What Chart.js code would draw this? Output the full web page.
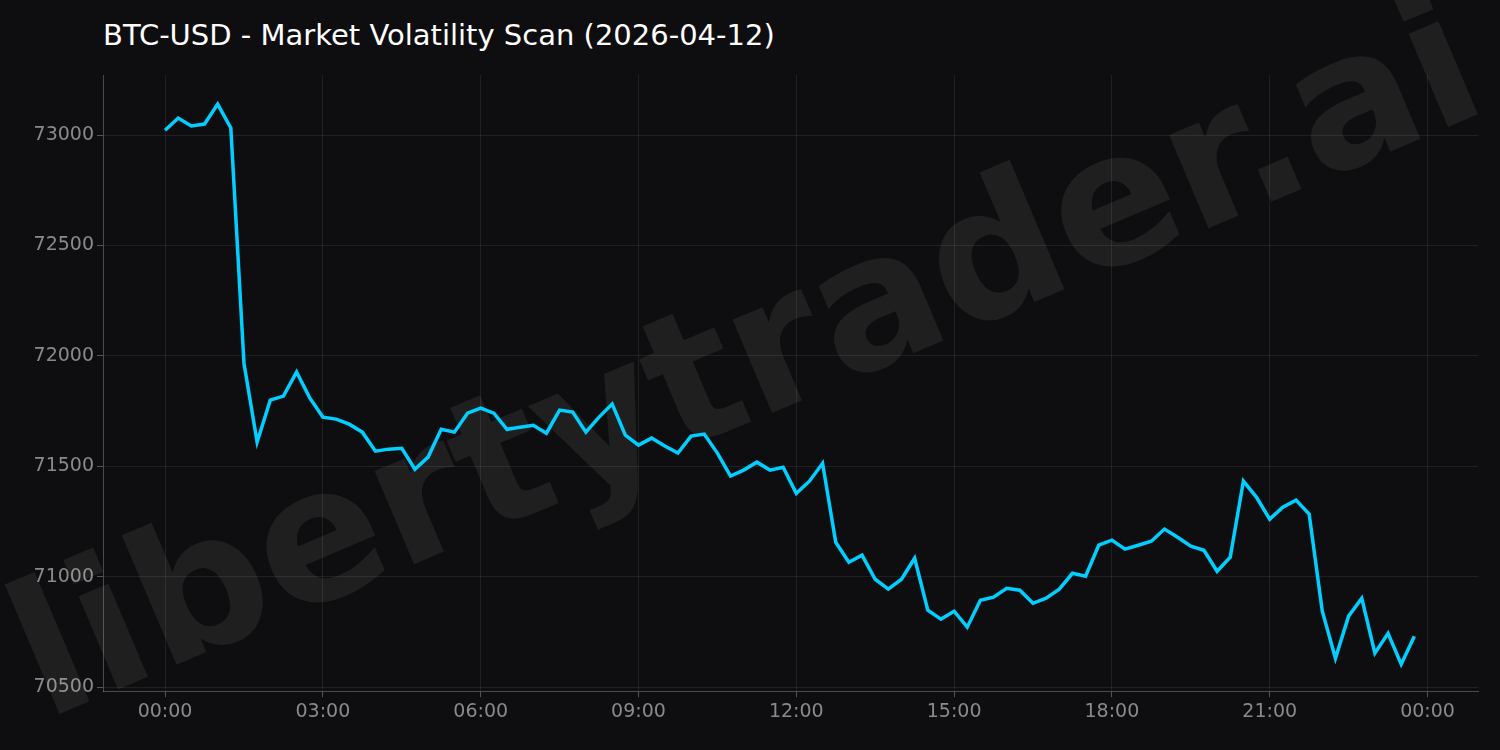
<!DOCTYPE html>
<html><head><meta charset="utf-8">
<script src="https://cdn.jsdelivr.net/npm/chart.js@4"></script>
<style>
html,body{margin:0;padding:0;background:#0e0e10;}
#wrap{position:relative;width:1500px;height:750px;}
#title{position:absolute;left:103px;top:18px;color:#fff;font:29px "DejaVu Sans";}
canvas{position:absolute;left:0;top:0;}
</style></head><body>
<div id="wrap"><div id="title">BTC-USD - Market Volatility Scan (2026-04-12)</div>
<canvas id="c" width="1500" height="750"></canvas></div>
<script>
const hours = Array.from({length:96},(_, i)=>i*0.25);
const prices = [73022,73077,73041,73050,73140,73032,71967,71610,71800,71818,71927,71810,71723,71714,71691,71655,71569,71578,71582,71487,71542,71668,71655,71741,71764,71741,71668,71677,71686,71650,71755,71746,71655,71723,71782,71641,71596,71628,71592,71560,71637,71646,71560,71456,71483,71519,71483,71496,71378,71433,71514,71156,71066,71098,70989,70944,70989,71084,70849,70808,70844,70772,70894,70908,70948,70939,70880,70903,70944,71016,71003,71143,71166,71125,71143,71161,71216,71179,71139,71120,71025,71089,71433,71360,71261,71315,71347,71284,70844,70631,70822,70903,70654,70744,70604,70731];
const xTicks = [0,3,6,9,12,15,18,21,24];
const yTicks = [70500,71000,71500,72000,72500,73000];
const watermark = {id:'wm',beforeDatasetsDraw(ch){const c=ch.ctx;c.save();c.translate(750,370);c.rotate(-0.40);c.fillStyle='rgba(255,255,255,0.07)';c.font='bold 185px "DejaVu Sans"';c.textAlign='center';c.textBaseline='middle';c.fillText('libertytrader.ai',0,0);c.restore();}};
const grid={color:'rgba(255,255,255,0.08)',tickLength:6,tickColor:'rgba(255,255,255,0.3)'};
new Chart(document.getElementById('c'),{type:'line',
data:{datasets:[{data:hours.map((h,i)=>({x:h,y:prices[i]})),borderColor:'#00cfff',borderWidth:3.5,pointRadius:0,tension:0}]},
options:{responsive:false,animation:false,layout:{padding:{top:75,right:22,left:10,bottom:24}},
plugins:{legend:{display:false},tooltip:{enabled:false}},
scales:{
x:{type:'linear',min:-1.18,max:24.96,afterBuildTicks:a=>{a.ticks=xTicks.map(v=>({value:v}));},
 ticks:{color:'#8a8a8a',font:{size:19,family:'DejaVu Sans'},callback:v=>String(v%24).padStart(2,'0')+':00'},
 grid:grid,border:{display:true,color:'rgba(255,255,255,0.25)'}},
y:{min:70482,max:73272,afterBuildTicks:a=>{a.ticks=yTicks.map(v=>({value:v}));},afterFit:a=>{a.width=93;},
 ticks:{color:'#8a8a8a',font:{size:19,family:'DejaVu Sans'},callback:v=>String(v)},
 grid:grid,border:{display:true,color:'rgba(255,255,255,0.25)'}}
}},plugins:[watermark]});
</script></body></html>
